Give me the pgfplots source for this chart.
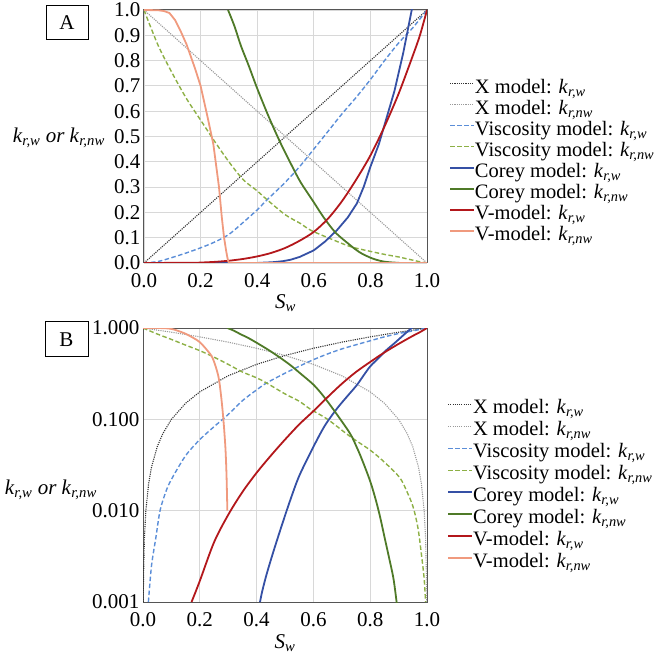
\documentclass[border=0pt]{standalone}
\usepackage{amstext}
\usepackage{pgfplots}
\pgfplotsset{compat=1.18}
\usepackage{fontspec}
\setmainfont{Liberation Serif}

\definecolor{cXw}{HTML}{333333}
\definecolor{cXnw}{HTML}{9A9A9A}
\definecolor{cVw}{HTML}{5B8ED8}
\definecolor{cVnw}{HTML}{8DB045}
\definecolor{cCw}{HTML}{3550A5}
\definecolor{cCnw}{HTML}{4F7A28}
\definecolor{cMw}{HTML}{B3171B}
\definecolor{cMnw}{HTML}{F09A7E}
\definecolor{gridc}{HTML}{D8D8D8}
\definecolor{framec}{HTML}{555555}

\newcommand{\krw}{\textit{k}$_{\textit{r,w}}$}
\newcommand{\krnw}{\textit{k}$_{\textit{r,nw}}$}

\tikzset{
  sXw/.style={cXw, line width=1.1pt, dash pattern=on 1.1pt off 1.1pt},
  sXnw/.style={cXnw, line width=1.1pt, dash pattern=on 1.1pt off 1.1pt},
  sVw/.style={cVw, line width=1.4pt, dash pattern=on 4.5pt off 2.5pt},
  sVnw/.style={cVnw, line width=1.4pt, dash pattern=on 4.5pt off 2.5pt},
  sCw/.style={cCw, line width=1.8pt},
  sCnw/.style={cCnw, line width=1.8pt},
  sMw/.style={cMw, line width=1.8pt},
  sMnw/.style={cMnw, line width=1.8pt},
}

\pgfplotsset{
  common/.style={
    scale only axis,
    xmin=0, xmax=1,
    xtick={0,0.2,0.4,0.6,0.8,1},
    xticklabels={0.0,0.2,0.4,0.6,0.8,1.0},
    grid=major,
    major grid style={gridc, line width=0.8pt},
    axis line style={framec, line width=1pt},
    major tick length=0pt,
    minor tick length=0pt,
    tick label style={font=\fontsize{21}{21}\selectfont},
    xticklabel style={yshift=-7pt},
    label style={font=\fontsize{21}{21}\selectfont},
    /pgf/number format/assume math mode=true,
    legend cell align=left,
    legend image code/.code={\draw[##1] (0pt,6pt) -- (24pt,6pt);},
    xlabel={\textit{S}$_{\textit{w}}$},
  },
}

\begin{document}
\begin{tikzpicture}
\path[use as bounding box] (0pt,0pt) rectangle (656pt,657pt);

% ---------------- Panel A ----------------
\begin{axis}[common,
  at={(144pt,394pt)}, anchor=south west,
  width=283pt, height=253pt,
  ymin=0, ymax=1,
  ytick={0,0.1,0.2,0.3,0.4,0.5,0.6,0.7,0.8,0.9,1},
  yticklabels={0.0,0.1,0.2,0.3,0.4,0.5,0.6,0.7,0.8,0.9,1.0},
  xlabel style={at={(axis description cs:0.5,-0.158)}, anchor=center},
  legend style={at={(1.067,0.735)}, anchor=north west, draw=none, fill=none,
    font=\fontsize{20.5}{21}\selectfont,
    /tikz/every even column/.append style={column sep=1pt},
    nodes={inner sep=0pt, text height=14.5pt, text depth=6.5pt}},
]
\addplot[sXw] coordinates {(0,0) (1,1)};
\addlegendentry{X model: \krw}
\addplot[sXnw] coordinates {(0,1) (1,0)};
\addlegendentry{X model: \krnw}
\addplot[sVw, smooth] coordinates {(0,0) (0.05,0.006) (0.1,0.022) (0.15,0.04) (0.2,0.06) (0.25,0.083) (0.3,0.113) (0.35,0.16) (0.4,0.21) (0.435,0.25) (0.5,0.32) (0.553,0.385) (0.6,0.45) (0.65,0.52) (0.7,0.59) (0.75,0.655) (0.8,0.725) (0.85,0.8) (0.9,0.87) (0.95,0.93) (1,1)};
\addlegendentry{Viscosity model: \krw}
\addplot[sVnw, smooth] coordinates {(0,1) (0.05,0.86) (0.1,0.75) (0.15,0.65) (0.2,0.565) (0.25,0.48) (0.3,0.4) (0.35,0.33) (0.4,0.285) (0.435,0.25) (0.5,0.19) (0.553,0.156) (0.588,0.13) (0.65,0.1) (0.729,0.065) (0.8,0.046) (0.85,0.034) (0.904,0.023) (0.93,0.016) (0.951,0.011) (0.968,0.0065) (0.98,0.0034) (0.99,0.0018) (0.995,0.001) (1,0)};
\addlegendentry{Viscosity model: \krnw}
\addplot[sCw] coordinates {(0,0) (0.4,0) (0.412,0.001) (0.42,0.00132) (0.435,0.002) (0.459,0.00355) (0.49,0.0071) (0.518,0.0129) (0.55,0.024) (0.6,0.05) (0.64,0.085) (0.682,0.13) (0.72,0.18) (0.752,0.235) (0.776,0.3) (0.8,0.38) (0.83,0.47) (0.857,0.573) (0.885,0.68) (0.916,0.83) (0.946,1.0) (0.97,1.13)};
\addlegendentry{Corey model: \krw}
\addplot[sCnw, smooth] coordinates {(0.297,1.0) (0.32,0.935) (0.342,0.86) (0.37,0.78) (0.4,0.69) (0.44,0.58) (0.48,0.48) (0.52,0.39) (0.553,0.32) (0.6,0.24) (0.635,0.18) (0.677,0.12) (0.729,0.07) (0.752,0.05) (0.77,0.037) (0.8,0.021) (0.82,0.013) (0.835,0.0085) (0.85,0.0052) (0.865,0.0032) (0.882,0.0018) (0.893,0.001) (0.9,0) (1,0)};
\addlegendentry{Corey model: \krnw}
\addplot[sMw, smooth] coordinates {(0,0) (0.171,0.001) (0.2,0.0017) (0.25,0.0045) (0.3,0.009) (0.35,0.016) (0.4,0.026) (0.45,0.04) (0.5,0.06) (0.55,0.088) (0.6,0.123) (0.65,0.175) (0.7,0.245) (0.75,0.33) (0.8,0.425) (0.85,0.54) (0.9,0.67) (0.95,0.82) (0.975,0.9) (1,1)};
\addlegendentry{V-model: \krw}
\addplot[sMnw] coordinates {(0,1) (0.05,0.999) (0.07,0.996) (0.09,0.988) (0.11,0.96) (0.13,0.915) (0.15,0.865) (0.18,0.77) (0.2,0.7) (0.224,0.58) (0.245,0.47) (0.265,0.3) (0.275,0.18) (0.283,0.1) (0.29,0.05) (0.294,0.025) (0.297,0.01) (0.3,0) (1,0)};
\addlegendentry{V-model: \krnw}
\end{axis}
\node[draw=black, line width=1pt, minimum width=42pt, minimum height=34pt, inner sep=0pt,
  font=\fontsize{21}{21}\selectfont] at (67pt,634pt) {A};
\node[anchor=east, inner sep=0pt, font=\fontsize{21}{21}\selectfont] at (105pt,519pt) {\krw\ \textit{or} \krnw};

% ---------------- Panel B ----------------
\begin{axis}[common,
  at={(143pt,55pt)}, anchor=south west,
  width=284pt, height=274pt,
  ymode=log, ymin=0.001, ymax=1,
  ytick={0.001,0.01,0.1,1},
  yticklabels={0.001,0.010,0.100,1.000},
  xlabel style={at={(axis description cs:0.5,-0.15)}, anchor=center},
  legend style={at={(1.06,0.748)}, anchor=north west, draw=none, fill=none,
    font=\fontsize{20.5}{22}\selectfont,
    /tikz/every even column/.append style={column sep=2pt},
    nodes={inner sep=0pt, text height=14.5pt, text depth=7.5pt}},
]
\addplot[sXw] coordinates {(0.001,0.001) (0.002,0.002) (0.005,0.005) (0.01,0.01) (0.02,0.02) (0.03,0.03) (0.05,0.05) (0.07,0.07) (0.1,0.1) (0.15,0.15) (0.2,0.2) (0.3,0.3) (0.4,0.4) (0.5,0.5) (0.6,0.6) (0.7,0.7) (0.8,0.8) (0.9,0.9) (1,1)};
\addlegendentry{X model: \krw}
\addplot[sXnw] coordinates {(0,1) (0.1,0.9) (0.2,0.8) (0.3,0.7) (0.4,0.6) (0.5,0.5) (0.6,0.4) (0.7,0.3) (0.8,0.2) (0.85,0.15) (0.9,0.1) (0.93,0.07) (0.95,0.05) (0.97,0.03) (0.98,0.02) (0.99,0.01) (0.995,0.005) (0.998,0.002) (0.999,0.001)};
\addlegendentry{X model: \krnw}
\addplot[sVw, smooth] coordinates {(0.019,0.001) (0.03,0.0025) (0.045,0.005) (0.06,0.01) (0.08,0.016) (0.1,0.022) (0.15,0.04) (0.2,0.06) (0.25,0.083) (0.3,0.113) (0.35,0.16) (0.4,0.21) (0.435,0.25) (0.5,0.32) (0.553,0.385) (0.6,0.45) (0.65,0.52) (0.7,0.59) (0.75,0.655) (0.8,0.725) (0.85,0.8) (0.9,0.87) (0.95,0.93) (1,1)};
\addlegendentry{Viscosity model: \krw}
\addplot[sVnw, smooth] coordinates {(0,1) (0.05,0.86) (0.1,0.75) (0.15,0.65) (0.2,0.565) (0.25,0.48) (0.3,0.4) (0.35,0.33) (0.4,0.285) (0.435,0.25) (0.5,0.19) (0.553,0.156) (0.588,0.13) (0.65,0.1) (0.729,0.065) (0.8,0.046) (0.85,0.034) (0.904,0.023) (0.93,0.016) (0.951,0.011) (0.968,0.0065) (0.98,0.0034) (0.99,0.0018) (0.995,0.001)};
\addlegendentry{Viscosity model: \krnw}
\addplot[sCw, smooth] coordinates {(0.412,0.001) (0.42,0.00132) (0.435,0.002) (0.459,0.00355) (0.49,0.0071) (0.518,0.0129) (0.55,0.024) (0.6,0.05) (0.64,0.085) (0.682,0.13) (0.72,0.18) (0.752,0.235) (0.776,0.3) (0.8,0.38) (0.83,0.47) (0.857,0.573) (0.885,0.68) (0.916,0.83) (0.946,1.0) (0.97,1.13)};
\addlegendentry{Corey model: \krw}
\addplot[sCnw, smooth] coordinates {(0.297,1.0) (0.32,0.935) (0.342,0.86) (0.37,0.78) (0.4,0.69) (0.44,0.58) (0.48,0.48) (0.52,0.39) (0.553,0.32) (0.6,0.24) (0.635,0.18) (0.677,0.12) (0.729,0.07) (0.752,0.05) (0.77,0.037) (0.8,0.021) (0.82,0.013) (0.835,0.0085) (0.85,0.0052) (0.865,0.0032) (0.882,0.0018) (0.893,0.001) (0.9,0.0007)};
\addlegendentry{Corey model: \krnw}
\addplot[sMw, smooth] coordinates {(0.171,0.001) (0.2,0.0017) (0.25,0.0045) (0.3,0.009) (0.35,0.016) (0.4,0.026) (0.45,0.04) (0.5,0.06) (0.55,0.088) (0.6,0.123) (0.65,0.175) (0.7,0.245) (0.75,0.33) (0.8,0.425) (0.85,0.54) (0.9,0.67) (0.95,0.82) (0.975,0.9) (1,1)};
\addlegendentry{V-model: \krw}
\addplot[sMnw, smooth] coordinates {(0,1) (0.05,0.999) (0.07,0.996) (0.09,0.988) (0.11,0.96) (0.13,0.915) (0.15,0.865) (0.18,0.77) (0.2,0.7) (0.224,0.58) (0.245,0.47) (0.265,0.3) (0.275,0.18) (0.283,0.1) (0.29,0.05) (0.294,0.025) (0.297,0.01)};
\addlegendentry{V-model: \krnw}
\end{axis}
\node[draw=black, line width=1pt, minimum width=43pt, minimum height=35pt, inner sep=0pt,
  font=\fontsize{21}{21}\selectfont] at (66.5pt,317.5pt) {B};
\node[anchor=east, inner sep=0pt, font=\fontsize{21}{21}\selectfont] at (97pt,167pt) {\krw\ \textit{or} \krnw};
\end{tikzpicture}
\end{document}
